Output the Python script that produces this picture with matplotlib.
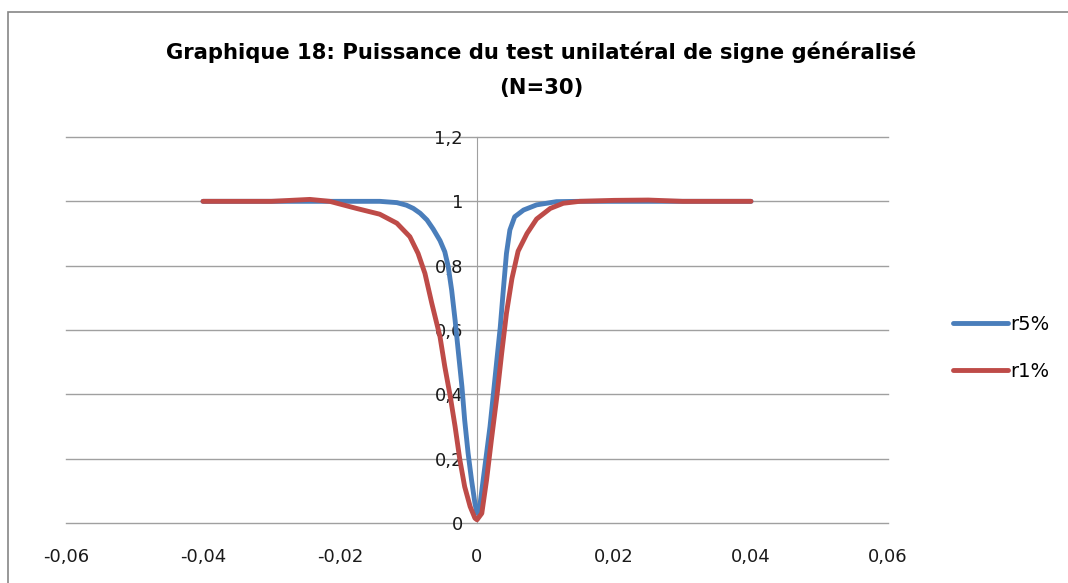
import matplotlib.pyplot as plt
from matplotlib.patches import Rectangle
from matplotlib.ticker import FixedLocator, FuncFormatter

# Data
x_r5 = [-0.04, -0.03, -0.02, -0.0142, -0.0117, -0.0103, -0.0093, -0.0083, -0.0073,
        -0.0064, -0.0054, -0.0047, -0.0042, -0.0037, -0.0032, -0.0027, -0.0022,
        -0.0018, -0.0013, -0.0008, -0.0003, 0.0, 0.0004, 0.0009, 0.0014, 0.0019,
        0.0024, 0.0029, 0.0034, 0.0038, 0.0043, 0.0048, 0.0055, 0.0068, 0.0087,
        0.0116, 0.015, 0.02, 0.03, 0.04]
y_r5 = [1.0, 1.0, 1.0, 1.0, 0.996, 0.988, 0.978, 0.963, 0.942,
        0.914, 0.878, 0.843, 0.797, 0.724, 0.631, 0.527, 0.424,
        0.32, 0.217, 0.134, 0.061, 0.03, 0.051, 0.134, 0.217, 0.30,
        0.403, 0.507, 0.61, 0.714, 0.838, 0.911, 0.952, 0.973, 0.989,
        0.999, 1.0, 1.0, 1.0, 1.0]

x_r1 = [-0.04, -0.03, -0.0244, -0.0215, -0.0176, -0.0142, -0.0117, -0.0098, -0.0086,
        -0.0076, -0.0066, -0.0054, -0.0047, -0.0039, -0.0032, -0.0025, -0.0018,
        -0.001, -0.0003, 0.0, 0.0007, 0.0014, 0.0021, 0.0029, 0.0036, 0.0043,
        0.0051, 0.006, 0.0073, 0.0087, 0.0107, 0.0126, 0.015, 0.02, 0.025,
        0.03, 0.04]
y_r1 = [1.0, 1.0, 1.006, 1.0, 0.978, 0.96, 0.932, 0.89, 0.838,
        0.776, 0.683, 0.579, 0.486, 0.393, 0.30, 0.196, 0.113,
        0.051, 0.015, 0.01, 0.03, 0.134, 0.258, 0.393, 0.527, 0.652,
        0.76, 0.845, 0.90, 0.945, 0.978, 0.994, 1.0, 1.003, 1.004,
        1.0, 1.0]

series_names = ['r5%', 'r1%']
x_ticks = [-0.06, -0.04, -0.02, 0, 0.02, 0.04, 0.06]
y_ticks = [0, 0.2, 0.4, 0.6, 0.8, 1.0, 1.2]
title_1 = 'Graphique 18: Puissance du test unilatéral de signe généralisé'
title_2 = '(N=30)'

W, H = 1068, 583
fig = plt.figure(figsize=(W / 100, H / 100), dpi=100)

# chart border (runs off the right and bottom edge)
fig.patches.append(Rectangle((8 / W, -0.1), 1.2, 1.1 - 12 / H,
                             transform=fig.transFigure, fill=False,
                             edgecolor='#868686', linewidth=1.2))

ax = fig.add_axes([66 / W, 1 - 523 / H, (888 - 66) / W, (523 - 137) / H])
ax.set_xlim(-0.06, 0.06)
ax.set_ylim(0, 1.2)

for y in y_ticks:
    ax.axhline(y, color='#a0a0a0', linewidth=1.0, zorder=1, clip_on=False)

ax.plot(x_r5, y_r5, color='#4a7ebb', linewidth=3.5, solid_capstyle='round',
        solid_joinstyle='round', label=series_names[0], zorder=3)
ax.plot(x_r1, y_r1, color='#be4b48', linewidth=3.5, solid_capstyle='round',
        solid_joinstyle='round', label=series_names[1], zorder=3)

for side in ['top', 'right', 'bottom']:
    ax.spines[side].set_visible(False)
ax.spines['left'].set_position(('data', 0))
ax.spines['left'].set_color('#a0a0a0')
ax.spines['left'].set_zorder(1)

fmt = FuncFormatter(lambda v, p: ('%g' % round(v, 2)).replace('.', ','))
ax.xaxis.set_major_locator(FixedLocator(x_ticks))
ax.yaxis.set_major_locator(FixedLocator(y_ticks))
ax.xaxis.set_major_formatter(fmt)
ax.yaxis.set_major_formatter(fmt)
ax.tick_params(axis='x', length=0, pad=18, labelsize=13)
ax.tick_params(axis='y', length=0, pad=10, labelsize=13)
for t in ax.get_xticklabels() + ax.get_yticklabels():
    t.set_color('#1a1a1a')

fig.text(0.507, 1 - 52 / H, title_1, ha='center', va='center', fontsize=15.2,
         fontweight='bold')
fig.text(0.507, 1 - 88 / H, title_2, ha='center', va='center', fontsize=15.2,
         fontweight='bold')

leg = ax.legend(loc='center left', bbox_to_anchor=(1.058, 0.453), frameon=False,
                fontsize=14, handlelength=2.83, handletextpad=0.1,
                labelspacing=1.45)

fig.savefig('out.png', dpi=100)
